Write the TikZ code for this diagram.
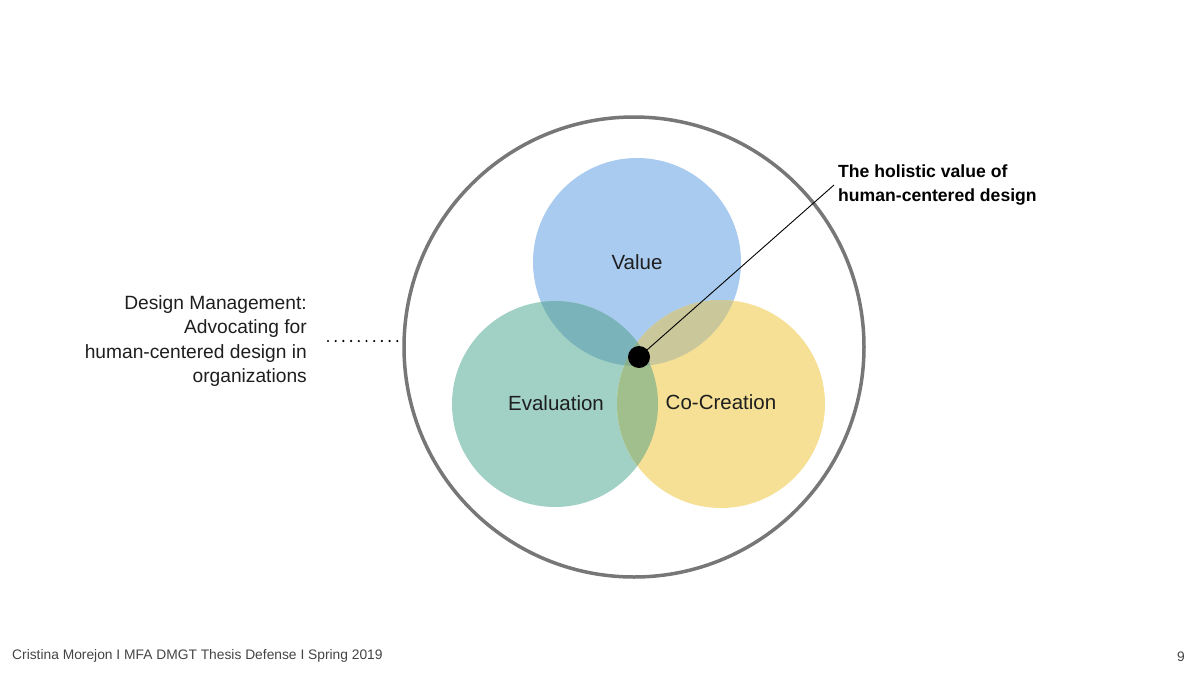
\documentclass[tikz,border=0pt]{standalone}
\usepackage{fontspec}
\setmainfont{Liberation Sans}
\definecolor{cblue}{HTML}{A9CBEF}
\definecolor{cteal}{HTML}{A1D0C5}
\definecolor{cyellow}{HTML}{F5E095}
\definecolor{cbt}{HTML}{7AB4BA}
\definecolor{cby}{HTML}{CAC79B}
\definecolor{cty}{HTML}{A0BF8D}
\definecolor{ctri}{HTML}{88AE8E}
\definecolor{ring}{HTML}{777777}
\definecolor{ink}{HTML}{1E1E1E}
\definecolor{foot}{HTML}{444444}
\tikzset{
  lbl/.style={text=ink, font=\fontsize{20.5}{24}\selectfont, inner sep=0pt},
  side/.style={text=ink, font=\fontsize{19.2}{24.6}\selectfont, inner sep=0pt, align=right},
  note/.style={text=black, font=\fontsize{17.6}{24}\selectfont\bfseries, inner sep=0pt, align=left},
  footer/.style={text=foot, font=\fontsize{13.8}{16}\selectfont, inner sep=0pt}
}
\begin{document}
\begin{tikzpicture}[x=1pt,y=-1pt]
\useasboundingbox (0,0) rectangle (1200,675);
% base circles
\fill[cblue] (637,262) circle (104);
\fill[cteal] (555,404) circle (103);
\fill[cyellow] (721,404) circle (104);
% pairwise overlaps
\begin{scope}
  \clip (637,262) circle (104);
  \fill[cbt] (555,404) circle (103);
\end{scope}
\begin{scope}
  \clip (637,262) circle (104);
  \fill[cby] (721,404) circle (104);
\end{scope}
\begin{scope}
  \clip (555,404) circle (103);
  \fill[cty] (721,404) circle (104);
\end{scope}
\begin{scope}
  \clip (637,262) circle (104);
  \clip (555,404) circle (103);
  \fill[ctri] (721,404) circle (104);
\end{scope}
% outer ring
\node[draw=ring, line width=3.5pt, circle, minimum size=460pt, inner sep=0pt] (ring) at (634,347) {};
% labels
\node[lbl] (value) at (637,262) {Value};
\node[lbl] (eval) at (556,403) {Evaluation};
\node[lbl] (cocr) at (721,402) {Co-Creation};
% center dot and callout
\node[fill=black, circle, minimum size=22pt, inner sep=0pt] (dot) at (639,357) {};
\node[note, anchor=north west] (holistic) at (838,165) {The holistic value of\\human-centered design};
\coordinate (calloutend) at (834,185);
\draw[black, line width=0.9pt] (dot.center) -- (calloutend);
% side text
\node[side, anchor=east] (dm) at (307,341) {Design Management:\\Advocating for\\human-centered design in\\organizations};
\coordinate (dotsstart) at (328,341);
\coordinate (dotsend) at (400,341);
\draw[black, line width=2.4pt, line cap=round, dash pattern=on 0pt off 7.7pt] (dotsstart) -- (dotsend);
% footer
\node[footer, anchor=west] (foot) at (12,656) {Cristina Morejon I MFA DMGT Thesis Defense I Spring 2019};
\node[footer, anchor=center] (page) at (1181,657) {9};
\end{tikzpicture}
\end{document}
